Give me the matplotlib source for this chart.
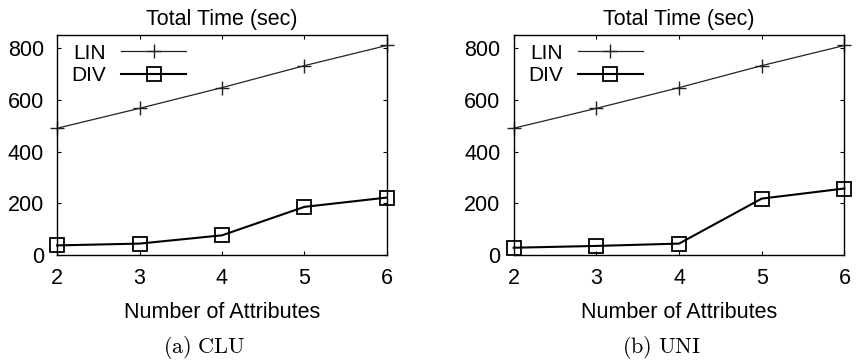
import matplotlib
matplotlib.use('Agg')
import matplotlib.pyplot as plt

plt.rcParams['font.family'] = ['Liberation Sans', 'DejaVu Sans']
plt.rcParams['mathtext.fontset'] = 'cm'

attrs = [2, 3, 4, 5, 6]
lin_clu = [490, 567, 647, 732, 810]
div_clu = [37, 44, 76, 186, 222]
lin_uni = [490, 567, 647, 732, 810]
div_uni = [28, 35, 44, 218, 257]
captions = [r'$\mathrm{(a)\ CLU}$', r'$\mathrm{(b)\ UNI}$']
yticks = [0, 200, 400, 600, 800]

fig = plt.figure(figsize=(8.59, 3.64), dpi=100)
axes = [fig.add_axes([0.0664, 0.2995, 0.384, 0.604]),
        fig.add_axes([0.598, 0.2995, 0.385, 0.604])]

panels = [(lin_clu, div_clu), (lin_uni, div_uni)]
for ax, (lin, div), cap in zip(axes, panels, captions):
    ax.plot(attrs, lin, color='#222222', linewidth=0.9, marker='+',
            markersize=10, markeredgewidth=1.0, label='LIN', clip_on=False)
    ax.plot(attrs, div, color='black', linewidth=1.5, marker='s',
            markersize=10, markerfacecolor='none', markeredgewidth=1.3,
            label='DIV', clip_on=False)
    ax.set_xlim(2, 6)
    ax.set_ylim(0, 850)
    ax.set_xticks(attrs)
    ax.set_yticks(yticks)
    ax.tick_params(direction='in', top=True, right=True, length=3,
                   width=0.8, labelsize=15.5, pad=9.5)
    for s in ax.spines.values():
        s.set_linewidth(1.0)
    ax.set_title('Total Time (sec)', fontsize=15.5, pad=7)
    ax.set_xlabel('Number of Attributes', fontsize=15.5, labelpad=9)
    ax.legend(loc='upper left', bbox_to_anchor=(0.03, 0.98), frameon=False,
              markerfirst=False, fontsize=15, handlelength=3.1,
              handletextpad=0.75, borderaxespad=0.0, labelspacing=0.15,
              borderpad=0.2)

    pos = ax.get_position()
    fig.text(pos.x0 + pos.width / 2 - 0.02, 0.044, cap, fontsize=16,
             ha='center', va='center')

fig.savefig('out.png', dpi=100)
